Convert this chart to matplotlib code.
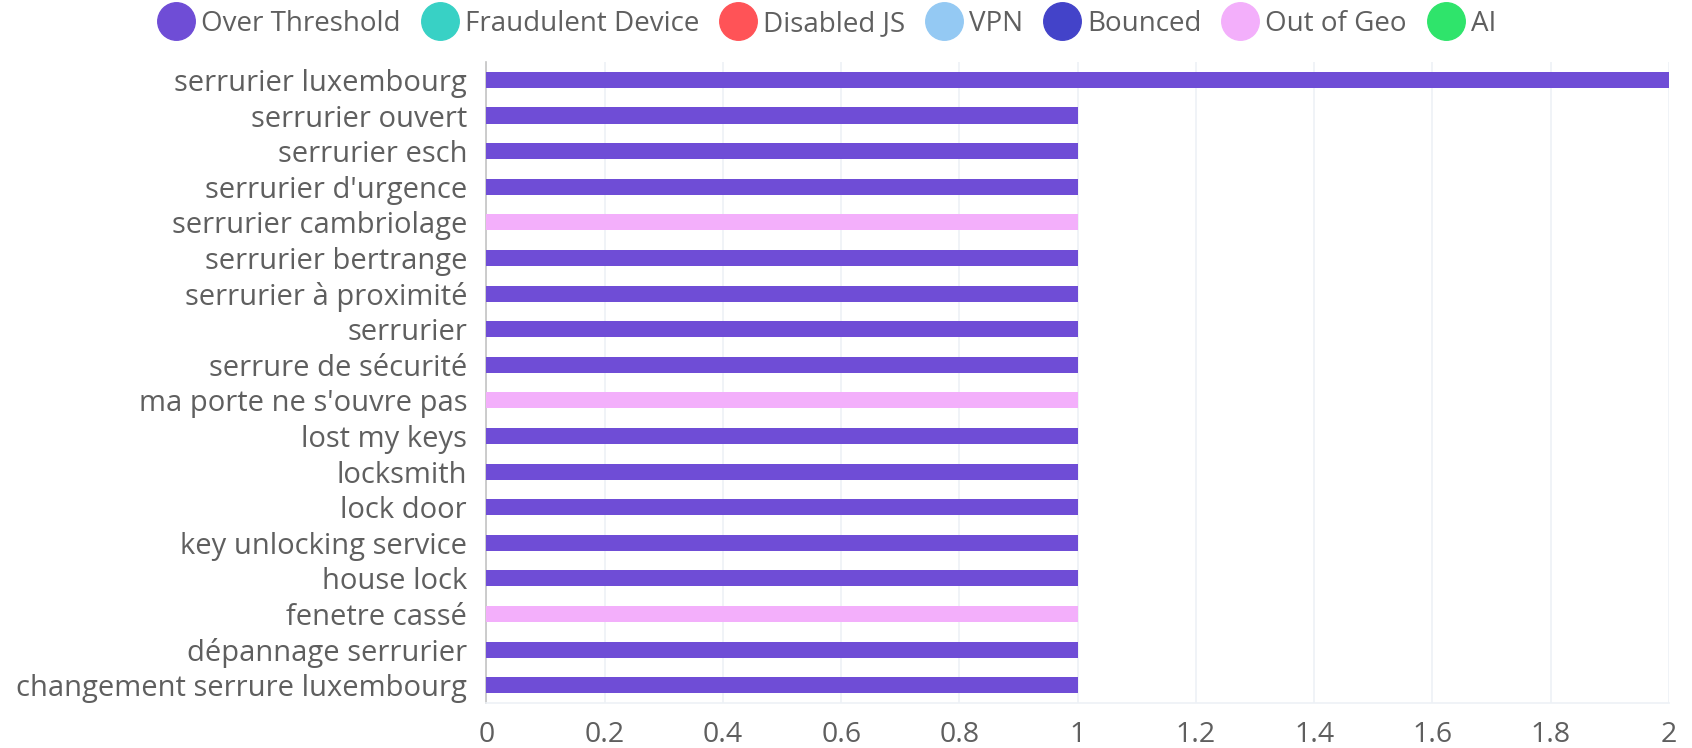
import matplotlib.pyplot as plt
from matplotlib.lines import Line2D
import numpy as np

# keywords, top to bottom as in the chart
keywords = [
    "serrurier luxembourg", "serrurier ouvert", "serrurier esch",
    "serrurier d'urgence", "serrurier cambriolage", "serrurier bertrange",
    "serrurier à proximité", "serrurier", "serrure de sécurité",
    "ma porte ne s'ouvre pas", "lost my keys", "locksmith", "lock door",
    "key unlocking service", "house lock", "fenetre cassé",
    "dépannage serrurier", "changement serrure luxembourg",
]
over_threshold = [2, 1, 1, 1, 0, 1, 1, 1, 1, 0, 1, 1, 1, 1, 1, 0, 1, 1]
out_of_geo = [0, 0, 0, 0, 1, 0, 0, 0, 0, 1, 0, 0, 0, 0, 0, 1, 0, 0]

legend_names = ["Over Threshold", "Fraudulent Device", "Disabled JS", "VPN",
                "Bounced", "Out of Geo", "AI"]
legend_colors = ["#6F4DD6", "#38D1C5", "#FF5357", "#94C9F3",
                 "#4343C9", "#F3AFFB", "#2FE46B"]

x_ticks = [0, 0.2, 0.4, 0.6, 0.8, 1, 1.2, 1.4, 1.6, 1.8, 2]

plt.rcParams['font.family'] = ['Open Sans', 'DejaVu Sans']
text_color = "#5f5f5f"
grid_color = "#EDF1F6"

fig = plt.figure(figsize=(16.92, 7.48), dpi=100)
ax = fig.add_axes([0.2875, 0.060, 0.6989, 0.857])

y = np.arange(len(keywords))
ot = np.array(over_threshold)
geo = np.array(out_of_geo)
ax.barh(y, ot, height=0.45, color=legend_colors[0], zorder=3)
ax.barh(y, geo, left=ot, height=0.45, color=legend_colors[5], zorder=3)

ax.set_ylim(len(keywords) - 0.5, -0.5)
ax.set_xlim(0, 2)
ax.set_yticks(y)
ax.set_yticklabels(keywords, fontsize=21, color=text_color)
ax.set_xticks(x_ticks)
ax.set_xticklabels([f"{t:g}" for t in x_ticks], fontsize=20.5, color=text_color)

ax.tick_params(axis='y', length=0, pad=14)
ax.tick_params(axis='x', length=0, pad=13)
ax.grid(axis='x', color=grid_color, linewidth=1.2, zorder=0)

for side in ['top', 'right']:
    ax.spines[side].set_visible(False)
ax.spines['bottom'].set_color(grid_color)
ax.spines['bottom'].set_linewidth(1.2)
ax.spines['left'].set_color("#C4C4C4")
ax.spines['left'].set_linewidth(1.2)

handles = [Line2D([], [], marker='o', linestyle='none', markersize=27,
                  markerfacecolor=c, markeredgecolor=c) for c in legend_colors]
fig.legend(handles, legend_names, loc='center', bbox_to_anchor=(0.4885, 0.968),
           ncol=7, frameon=False, fontsize=20, handletextpad=0.2,
           columnspacing=0.7, handlelength=1.4, labelcolor=text_color,
           borderpad=0, borderaxespad=0)

plt.savefig('out.png', dpi=100)
